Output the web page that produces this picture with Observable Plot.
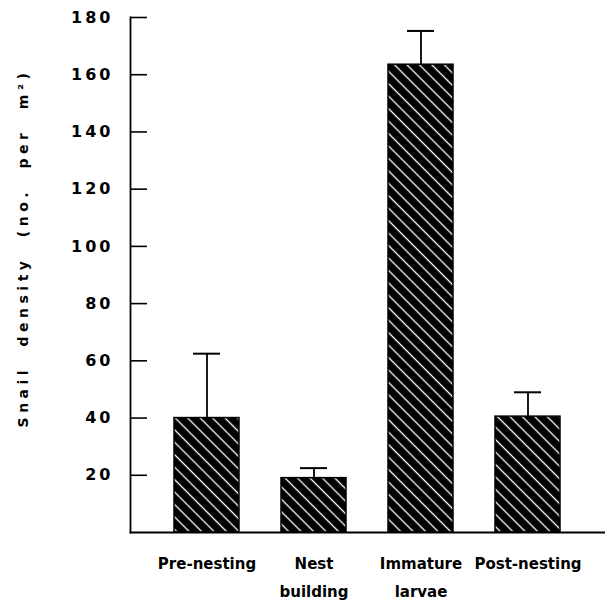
<!DOCTYPE html>
<html>
<head>
<meta charset="utf-8">
<script src="https://cdn.jsdelivr.net/npm/d3@7"></script>
<script src="https://cdn.jsdelivr.net/npm/@observablehq/plot@0.6"></script>
<style>
  body { margin: 0; background: #fff; }
  svg { font-family: "DejaVu Sans", sans-serif; }
  g[aria-label="y-axis tick label"] text { letter-spacing: 3px; }
  .ylab text { letter-spacing: 4.5px; word-spacing: 10px; }
</style>
</head>
<body>
<div id="chart"></div>
<script>
const categories = ["Pre-nesting", "Nest\nbuilding", "Immature\nlarvae", "Post-nesting"];
const means = [40, 19, 163.5, 40.5];
const upper = [62.5, 22.5, 175.3, 49];
const yTicks = [20, 40, 60, 80, 100, 120, 140, 160, 180];
const yLabel = "Snail density (no. per m²)";

const data = categories.map((c, i) => ({cat: c, mean: means[i], upper: upper[i]}));

const svg = Plot.plot({
  width: 605,
  height: 600,
  marginLeft: 130,
  marginRight: 0,
  marginTop: 17,
  marginBottom: 68,
  style: {fontFamily: "DejaVu Sans, sans-serif", color: "black", background: "white"},
  x: {domain: categories, paddingInner: 0.39, paddingOuter: 0.4, label: null},
  y: {domain: [0, 180], label: null},
  marks: [
    Plot.barY(data, {x: "cat", y: "mean", fill: "url(#hatch)", stroke: "black", strokeWidth: 1.5}),
    Plot.ruleX(data, {x: "cat", y1: "mean", y2: "upper", stroke: "black", strokeWidth: 1.8}),
    Plot.tickY(data, {x: "cat", y: "upper", insetLeft: 19, insetRight: 19, stroke: "black", strokeWidth: 2}),
    Plot.frame({anchor: "left", stroke: "black", strokeWidth: 1.8}),
    Plot.frame({anchor: "bottom", stroke: "black", strokeWidth: 1.8}),
    Plot.axisY(yTicks, {tickSize: -17, tickPadding: 34, strokeWidth: 1.6, fontSize: 16, fontWeight: "bold", label: null}),
    Plot.axisX({tickSize: 0, tickPadding: 17, fontSize: 15, fontWeight: "bold", lineHeight: 1.87, label: null}),
    Plot.text([yLabel], {text: d => d, frameAnchor: "left", rotate: -90, lineAnchor: "top", textAnchor: "middle", dx: -112, dy: -27, fontSize: 14, fontWeight: "bold", className: "ylab"})
  ]
});

const defs = d3.select(svg).insert("defs", ":first-child");
const pat = defs.append("pattern")
  .attr("id", "hatch")
  .attr("patternUnits", "userSpaceOnUse")
  .attr("width", 8.8)
  .attr("height", 8.8)
  .attr("patternTransform", "rotate(-45)");
pat.append("rect").attr("width", 8.8).attr("height", 8.8).attr("fill", "black");
pat.append("rect").attr("x", 3.7).attr("width", 1.3).attr("height", 8.8).attr("fill", "white");

document.getElementById("chart").appendChild(svg);
</script>
</body>
</html>
